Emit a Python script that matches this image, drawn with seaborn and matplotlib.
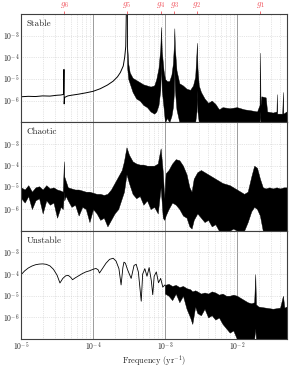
import numpy as np
import seaborn as sns
import matplotlib.pyplot as plt
from matplotlib.ticker import LogLocator, NullFormatter

# Secular frequencies marked on top (yr^-1)
g_names = ['$g_6$', '$g_5$', '$g_4$', '$g_3$', '$g_2$', '$g_1$']
g_freq = [3.98e-5, 2.92e-4, 8.83e-4, 1.35e-3, 2.78e-3, 2.11e-2]

# Values below in log10 units (frequency, amplitude)
# Stable: smooth part up to g5
stable_line_f = [-5.00, -4.90, -4.80, -4.70, -4.60, -4.50, -4.45, -4.42, -4.41, -4.404,
                 -4.401, -4.395, -4.35, -4.30, -4.20, -4.10, -4.00, -3.90, -3.80, -3.72,
                 -3.66, -3.62, -3.58, -3.56, -3.545, -3.54, -3.535]
stable_line_a = [-5.82, -5.80, -5.81, -5.78, -5.79, -5.75, -5.74, -5.72, -5.70, -4.56,
                 -6.15, -5.85, -5.78, -5.75, -5.70, -5.64, -5.57, -5.45, -5.28, -5.10,
                 -4.90, -4.70, -4.40, -4.00, -3.50, -2.50, -1.50]
# Stable: noisy part after g5
stable_band_f = [-3.532, -3.525, -3.51, -3.49, -3.45, -3.40, -3.35, -3.30, -3.25, -3.20,
                 -3.15, -3.12, -3.09, -3.065, -3.055, -3.045, -3.02, -3.00, -2.97, -2.94,
                 -2.91, -2.89, -2.875, -2.87, -2.862, -2.84, -2.80, -2.75, -2.70, -2.65,
                 -2.61, -2.58, -2.562, -2.556, -2.548, -2.53, -2.50, -2.45, -2.40, -2.35,
                 -2.30, -2.25, -2.20, -2.10, -2.00, -1.95, -1.90, -1.80, -1.72, -1.685,
                 -1.678, -1.672, -1.66, -1.60, -1.58, -1.50, -1.45, -1.445, -1.44, -1.37,
                 -1.36, -1.355, -1.31]
stable_band_hi = [-1.5, -3.5, -4.3, -4.7, -4.95, -5.05, -5.15, -5.25, -5.3, -5.35,
                  -5.3, -5.0, -4.5, -3.6, -2.6, -3.7, -4.6, -5.0, -5.1, -5.1,
                  -4.8, -4.3, -3.4, -2.66, -3.6, -4.6, -5.2, -5.3, -5.45, -5.5,
                  -5.3, -4.9, -3.8, -3.33, -4.5, -5.3, -5.6, -5.9, -6.1, -6.0,
                  -6.15, -6.4, -6.3, -6.35, -6.3, -6.35, -6.4, -6.45, -6.5, -6.2,
                  -3.79, -6.2, -5.8, -5.85, -6.5, -6.55, -6.5, -5.7, -6.6, -6.6,
                  -5.6, -6.6, -6.5]
stable_band_lo = [-3.0, -4.5, -5.0, -5.2, -5.6, -5.9, -6.0, -6.2, -6.3, -6.5,
                  -6.6, -6.5, -6.2, -5.5, -4.2, -5.5, -6.3, -7.0, -6.8, -7.0,
                  -6.7, -6.3, -5.6, -4.5, -5.5, -6.4, -7.0, -7.0, -7.0, -7.0,
                  -7.0, -7.0, -6.5, -5.5, -6.5, -7.0, -7.0, -7.0, -7.0, -7.0,
                  -7.0, -7.0, -7.0, -7.0, -7.0, -7.0, -7.0, -7.0, -7.0, -7.0,
                  -6.5, -7.0, -7.0, -7.0, -7.0, -7.0, -7.0, -7.0, -7.0, -7.0,
                  -7.0, -7.0, -7.0]

# Chaotic: noisy over the whole range
chaotic_f = [-5.00, -4.95, -4.90, -4.85, -4.80, -4.75, -4.70, -4.65, -4.60, -4.55,
             -4.50, -4.45, -4.42, -4.405, -4.40, -4.38, -4.35, -4.30, -4.25, -4.20,
             -4.15, -4.10, -4.05, -4.00, -3.95, -3.90, -3.85, -3.80, -3.75, -3.70,
             -3.65, -3.60, -3.57, -3.535, -3.50, -3.45, -3.40, -3.35, -3.30, -3.25,
             -3.20, -3.15, -3.10, -3.06, -3.03, -3.01, -2.99, -2.95, -2.90, -2.85,
             -2.80, -2.75, -2.70, -2.66, -2.63, -2.60, -2.55, -2.50, -2.45, -2.40,
             -2.35, -2.30, -2.25, -2.20, -2.15, -2.10, -2.05, -2.00, -1.95, -1.90,
             -1.85, -1.80, -1.76, -1.72, -1.68, -1.64, -1.60, -1.55, -1.50, -1.45,
             -1.40, -1.35, -1.31]
chaotic_hi = [-5.0, -5.1, -4.9, -5.2, -5.0, -4.95, -5.1, -4.9, -5.05, -5.0,
              -5.1, -5.15, -5.2, -3.8, -4.5, -4.7, -5.0, -5.05, -5.1, -5.1,
              -5.15, -5.2, -5.2, -5.25, -5.3, -5.3, -5.35, -5.3, -5.1, -4.8,
              -4.5, -4.2, -3.8, -3.15, -3.5, -3.8, -3.9, -3.95, -3.95, -4.0,
              -4.0, -4.0, -3.9, -3.2, -4.3, -5.5, -4.35, -4.2, -3.9, -3.7,
              -3.75, -4.0, -4.4, -5.0, -5.2, -4.6, -4.3, -4.2, -4.3, -4.4,
              -4.5, -4.6, -4.7, -4.8, -4.85, -4.9, -5.0, -5.1, -5.2, -5.3,
              -5.2, -4.5, -4.0, -4.1, -4.6, -5.0, -5.05, -5.0, -5.05, -5.0,
              -5.05, -5.0, -5.0]
chaotic_lo = [-5.5, -5.7, -5.4, -6.0, -5.6, -5.5, -6.2, -5.6, -5.8, -5.7,
              -6.4, -5.9, -6.0, -5.2, -5.6, -5.4, -5.6, -5.9, -5.8, -6.3,
              -5.9, -6.0, -6.6, -6.0, -6.2, -6.5, -6.4, -6.8, -6.5, -6.2,
              -6.0, -5.5, -5.2, -4.4, -4.8, -5.3, -5.5, -5.4, -5.8, -5.6,
              -6.0, -5.9, -6.2, -5.0, -6.4, -6.5, -6.3, -6.0, -5.7, -5.8,
              -6.0, -6.3, -6.4, -6.8, -6.9, -6.5, -6.2, -6.4, -6.6, -6.5,
              -6.8, -6.7, -7.0, -7.0, -7.0, -7.0, -6.9, -7.0, -7.0, -7.0,
              -6.6, -6.1, -5.9, -6.0, -6.3, -7.0, -7.0, -7.0, -7.0, -7.0,
              -7.0, -7.0, -7.0]

# Unstable: smooth part, then noisy
unstable_line_f = [-5.00, -4.95, -4.90, -4.85, -4.80, -4.75, -4.70, -4.65, -4.60, -4.55,
                   -4.50, -4.46, -4.42, -4.38, -4.345, -4.31, -4.285, -4.25, -4.20, -4.15,
                   -4.10, -4.05, -4.00, -3.96, -3.93, -3.91, -3.88, -3.82, -3.77, -3.72,
                   -3.68, -3.64, -3.61, -3.585, -3.57, -3.55, -3.52, -3.47, -3.43, -3.40,
                   -3.37, -3.33, -3.31, -3.28, -3.25, -3.22, -3.19, -3.17, -3.15, -3.12,
                   -3.09, -3.06, -3.03, -3.00]
unstable_line_a = [-4.03, -3.85, -3.72, -3.63, -3.57, -3.54, -3.53, -3.55, -3.62, -3.78,
                   -4.05, -4.41, -4.20, -4.08, -4.06, -4.15, -4.26, -4.18, -4.08, -3.98,
                   -3.90, -3.85, -3.78, -3.74, -3.80, -3.95, -3.80, -3.50, -3.32, -3.27,
                   -3.40, -3.75, -4.50, -3.70, -3.45, -3.50, -3.80, -4.20, -3.60, -3.55,
                   -3.90, -5.25, -4.00, -3.75, -4.10, -3.70, -4.30, -4.95, -4.10, -3.90,
                   -4.40, -4.20, -4.60, -4.50]
unstable_band_f = [-3.00, -2.95, -2.90, -2.85, -2.80, -2.75, -2.70, -2.65, -2.62, -2.58,
                   -2.55, -2.50, -2.45, -2.40, -2.35, -2.30, -2.25, -2.20, -2.15, -2.10,
                   -2.05, -2.00, -1.95, -1.90, -1.85, -1.80, -1.76, -1.745, -1.735, -1.70,
                   -1.60, -1.50, -1.40, -1.36, -1.34, -1.31]
unstable_band_hi = [-4.5, -4.45, -4.55, -4.5, -4.6, -4.55, -4.65, -4.7, -4.8, -4.75,
                    -4.8, -4.9, -4.85, -4.9, -4.8, -4.85, -4.95, -4.9, -5.0, -5.0,
                    -4.95, -5.0, -5.1, -5.2, -5.3, -5.35, -5.3, -4.0, -5.4, -5.5,
                    -5.55, -5.6, -5.55, -5.0, -5.55, -5.5]
unstable_band_lo = [-4.9, -5.0, -5.2, -4.9, -5.3, -5.0, -5.6, -6.0, -6.3, -5.5,
                    -5.8, -5.9, -5.6, -6.0, -5.9, -6.1, -6.0, -6.3, -6.5, -6.7,
                    -6.6, -7.0, -7.0, -7.0, -7.0, -7.0, -7.0, -6.5, -7.0, -7.0,
                    -7.0, -7.0, -7.0, -7.0, -7.0, -7.0]

panel_names = ['Stable', 'Chaotic', 'Unstable']

sns.set_style('white')
plt.rcParams['font.family'] = 'serif'
plt.rcParams['font.serif'] = ['cmr10', 'DejaVu Serif']
plt.rcParams['mathtext.fontset'] = 'cm'
plt.rcParams['axes.formatter.use_mathtext'] = True
plt.rcParams['font.size'] = 6

red = '#f0505a'


def lg(v):
    return 10.0 ** np.array(v)


fig, axes = plt.subplots(3, 1, figsize=(2.93, 3.67), dpi=100, sharex=True)
fig.subplots_adjust(left=0.072, right=0.978, top=0.962, bottom=0.076, hspace=0)

ax = axes[0]
sns.lineplot(x=lg(stable_line_f), y=lg(stable_line_a), ax=ax, color='black',
             lw=0.7, estimator=None, sort=False)
ax.fill_between(lg(stable_band_f), lg(stable_band_lo), lg(stable_band_hi),
                color='black', lw=0.3)

ax = axes[1]
ax.fill_between(lg(chaotic_f), lg(chaotic_lo), lg(chaotic_hi), color='black', lw=0.3)

ax = axes[2]
sns.lineplot(x=lg(unstable_line_f), y=lg(unstable_line_a), ax=ax, color='black',
             lw=0.6, estimator=None, sort=False)
ax.fill_between(lg(unstable_band_f), lg(unstable_band_lo), lg(unstable_band_hi),
                color='black', lw=0.3)

for ax, name in zip(axes, panel_names):
    ax.set_xscale('log')
    ax.set_yscale('log')
    ax.set_xlim(1e-5, 0.049)
    ax.set_ylim(1e-7, 1e-2)
    ax.set_yticks([1e-3, 1e-4, 1e-5, 1e-6])
    ax.yaxis.set_minor_locator(plt.NullLocator())
    ax.xaxis.set_minor_locator(LogLocator(base=10, subs=np.arange(2, 10)))
    ax.xaxis.set_minor_formatter(NullFormatter())
    ax.grid(True, which='major', axis='x', color='0.55', lw=0.6, ls='-')
    ax.grid(True, which='minor', axis='x', color='0.8', lw=0.5, ls=':')
    ax.grid(True, which='major', axis='y', color='0.8', lw=0.5, ls=':')
    ax.set_axisbelow(True)
    ax.tick_params(axis='both', which='both', direction='in', length=0, labelsize=5.5, pad=1)
    for s in ax.spines.values():
        s.set_linewidth(0.8)
        s.set_color('0.25')
    ax.text(0.02, 0.95, name, transform=ax.transAxes, ha='left', va='top', fontsize=6.5)

axes[2].set_xlabel('Frequency (yr$^{-1}$)', fontsize=6.0)
axes[2].xaxis.set_label_coords(0.5, -0.125)

sec = axes[0].secondary_xaxis('top')
sec.set_xticks(g_freq, g_names)
sec.xaxis.set_minor_locator(plt.NullLocator())
sec.tick_params(axis='x', colors=red, length=2, width=0.6, pad=0.5, labelsize=6.5)
sec.spines['top'].set_visible(False)

fig.savefig('out.png', dpi=100)
